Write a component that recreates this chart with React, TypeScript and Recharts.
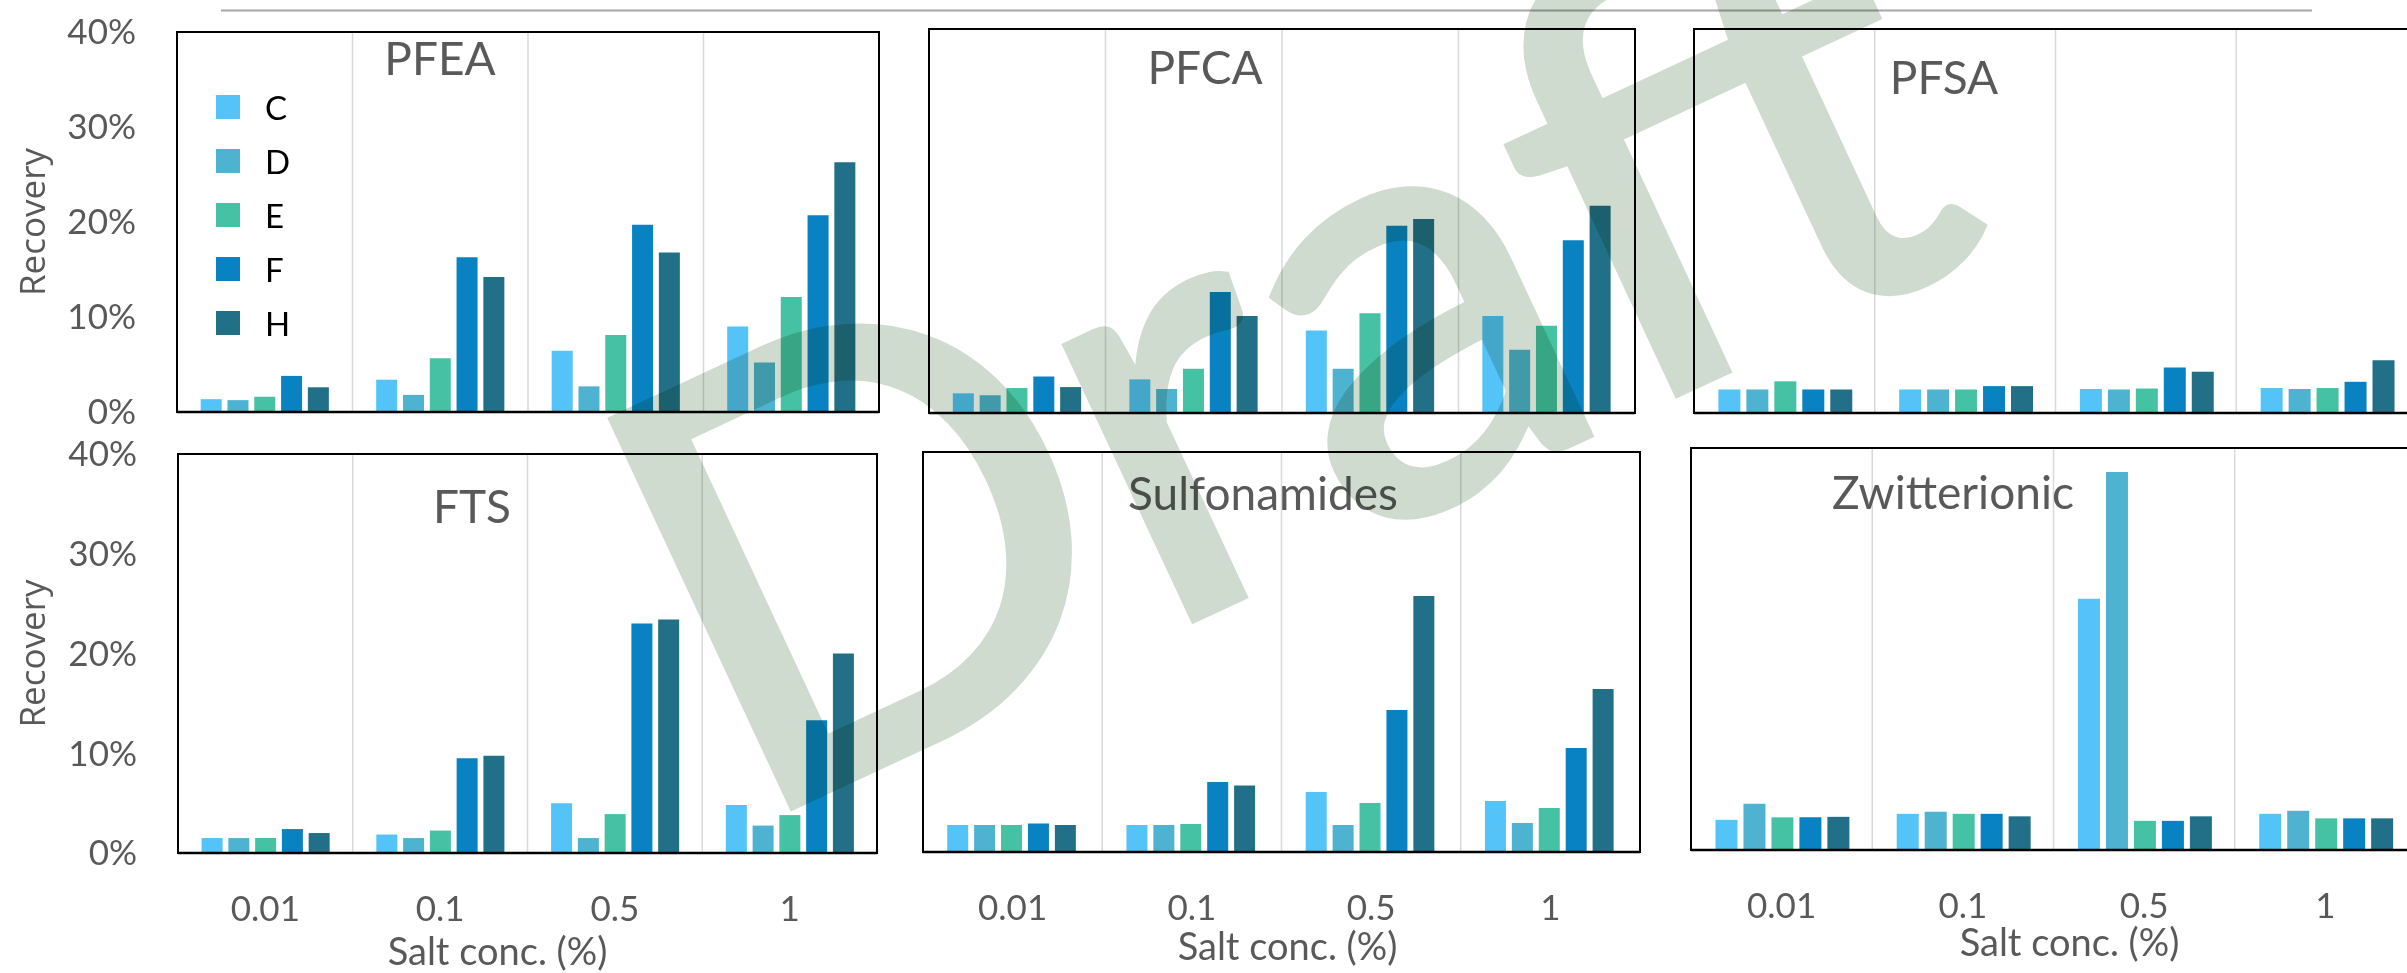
import { BarChart, Bar, XAxis, YAxis, CartesianGrid, Legend } from "recharts";

const categories = ["0.01", "0.1", "0.5", "1"];
const seriesNames = ["C", "D", "E", "F", "H"];
const yTicks = [0, 10, 20, 30, 40];
const panelTitles = ["PFEA", "PFCA", "PFSA", "FTS", "Sulfonamides", "Zwitterionic"];

// recovery in %, one row per series (C, D, E, F, H), one column per salt conc.
const pfea = [
  [1.35, 3.4, 6.45, 9.0],
  [1.25, 1.8, 2.7, 5.2],
  [1.6, 5.65, 8.1, 12.1],
  [3.8, 16.3, 19.7, 20.7],
  [2.6, 14.2, 16.8, 26.3],
];
const pfca = [
  [2.05, 3.5, 8.6, 10.1],
  [1.85, 2.5, 4.6, 6.6],
  [2.6, 4.6, 10.4, 9.1],
  [3.8, 12.6, 19.5, 18.0],
  [2.7, 10.1, 20.2, 21.6],
];
const pfsa = [
  [2.45, 2.45, 2.5, 2.6],
  [2.45, 2.45, 2.45, 2.5],
  [3.3, 2.45, 2.55, 2.6],
  [2.45, 2.8, 4.75, 3.25],
  [2.45, 2.8, 4.3, 5.5],
];
const fts = [
  [1.5, 1.85, 5.0, 4.8],
  [1.5, 1.5, 1.5, 2.75],
  [1.5, 2.25, 3.9, 3.8],
  [2.4, 9.5, 23.0, 13.3],
  [2.0, 9.75, 23.4, 20.0],
];
const sulfonamides = [
  [2.7, 2.7, 6.0, 5.1],
  [2.7, 2.7, 2.7, 2.9],
  [2.7, 2.8, 4.9, 4.4],
  [2.85, 7.0, 14.2, 10.4],
  [2.7, 6.65, 25.6, 16.3],
];
const zwitterionic = [
  [3.0, 3.6, 25.0, 3.6],
  [4.6, 3.8, 37.6, 3.9],
  [3.25, 3.6, 2.9, 3.15],
  [3.25, 3.6, 2.9, 3.15],
  [3.3, 3.35, 3.35, 3.15],
];

const W = 2407;
const H = 973;
const PAD = 30;
const FONT = "Lato, 'Open Sans', sans-serif";
const GREY = "#595959";
const COLORS = ["#53C3F8", "#4EB3D0", "#45C2A3", "#0882C0", "#227088"];

type Box = { x: number; y: number; w: number; h: number };
type PanelCfg = {
  values: number[][];
  box: Box;
  titleAt: [number, number];
  firstCol: boolean;
  bottomRow: boolean;
  legend?: boolean;
  axisTitle?: [number, number]; // dx, offset from bottom
};

const panels: PanelCfg[] = [
  { values: pfea, box: { x: 177, y: 32, w: 702, h: 380 }, titleAt: [440, 75], firstCol: true, bottomRow: false, legend: true },
  { values: pfca, box: { x: 929, y: 29, w: 706, h: 384 }, titleAt: [1205, 84], firstCol: false, bottomRow: false },
  { values: pfsa, box: { x: 1694, y: 29, w: 723, h: 384 }, titleAt: [1944, 94], firstCol: false, bottomRow: false },
  { values: fts, box: { x: 178, y: 454, w: 699, h: 399 }, titleAt: [472, 523], firstCol: true, bottomRow: true, axisTitle: [-30, 8] },
  { values: sulfonamides, box: { x: 923, y: 452, w: 717, h: 400 }, titleAt: [1263, 510], firstCol: false, bottomRow: true, axisTitle: [6, 13] },
  { values: zwitterionic, box: { x: 1691, y: 448, w: 725, h: 402 }, titleAt: [1953, 509], firstCol: false, bottomRow: true, axisTitle: [16, 17] },
];

function makeRows(values: number[][]) {
  return categories.map((cat, i) => {
    const row: Record<string, string | number> = { cat };
    seriesNames.forEach((s, j) => {
      row[s] = values[j][i];
    });
    return row;
  });
}

// grid lines sit between the categories, not on them
const gridAtBoundaries = (args: any) => {
  const o = args.offset;
  const w = o.width ?? args.width - o.left - o.right;
  return categories.slice(1).map((_, i) => o.left + (w * (i + 1)) / categories.length);
};

const renderLegend = (props: any) => {
  const items = [...(props.payload || [])].sort(
    (a: any, b: any) => seriesNames.indexOf(a.value) - seriesNames.indexOf(b.value)
  );
  return (
    <div>
      {items.map((it: any) => (
        <div key={it.value} style={{ display: "flex", alignItems: "center", height: 54 }}>
          <div style={{ width: 24, height: 24, background: it.color }} />
          <span style={{ marginLeft: 25, fontSize: 33, fontFamily: FONT, color: "#000" }}>{it.value}</span>
        </div>
      ))}
    </div>
  );
};

function Panel({ cfg }: { cfg: PanelCfg }) {
  const { box, firstCol, bottomRow } = cfg;
  const xH = bottomRow ? H - (box.y + box.h) : 24;
  const left = firstCol ? 0 : box.x - 4;
  const mLeft = firstCol ? 0 : 4;
  const width = box.x + box.w + 4 - left;
  const top = box.y - PAD;
  return (
    <div style={{ position: "absolute", left, top }}>
      <BarChart
        width={width}
        height={PAD + box.h + xH}
        data={makeRows(cfg.values)}
        margin={{ top: PAD, right: 4, bottom: 0, left: mLeft }}
        barCategoryGap="13.5%"
        barGap="3.3%"
      >
        <CartesianGrid horizontal={false} stroke="#D9D9D9" strokeWidth={1.5} verticalCoordinatesGenerator={gridAtBoundaries} />
        <XAxis
          dataKey="cat"
          height={xH}
          interval={0}
          axisLine={{ stroke: "#000", strokeWidth: 2.5 }}
          tickLine={false}
          tickSize={0}
          tickMargin={43}
          tick={bottomRow ? { fill: GREY, fontSize: 35, fontFamily: FONT } : false}
          label={
            bottomRow && cfg.axisTitle
              ? {
                  value: "Salt conc. (%)",
                  position: "insideBottom",
                  dx: cfg.axisTitle[0],
                  offset: cfg.axisTitle[1],
                  fill: GREY,
                  fontSize: 38,
                  fontFamily: FONT,
                }
              : undefined
          }
        />
        <YAxis
          domain={[0, 40]}
          ticks={yTicks}
          interval={0}
          hide={!firstCol}
          width={firstCol ? box.x : 0}
          axisLine={false}
          tickLine={false}
          tickSize={0}
          tickMargin={41}
          tickFormatter={(v: number) => `${v}%`}
          tick={{ fill: GREY, fontSize: 35, fontFamily: FONT }}
          label={{
            value: "Recovery",
            angle: -90,
            position: "insideLeft",
            offset: 33,
            fill: GREY,
            fontSize: 35,
            fontFamily: "'Open Sans', sans-serif",
            style: { textAnchor: "middle" },
          }}
        />
        {cfg.legend && (
          <Legend
            layout="vertical"
            align="center"
            verticalAlign="middle"
            wrapperStyle={{ left: 216, top: 80 - top, width: 90 }}
            content={renderLegend}
          />
        )}
        {seriesNames.map((s, j) => (
          <Bar key={s} dataKey={s} fill={COLORS[j]} isAnimationActive={false} />
        ))}
      </BarChart>
    </div>
  );
}

export default function App() {
  return (
    <div style={{ position: "absolute", left: 0, top: 0, width: W, height: H, overflow: "hidden", background: "#fff" }}>
      {panels.map((p, i) => (
        <Panel key={i} cfg={p} />
      ))}
      <svg width={W} height={H} style={{ position: "absolute", left: 0, top: 0, pointerEvents: "none" }}>
        <line x1={221} x2={2312} y1={10.5} y2={10.5} stroke="#A6A6A6" strokeWidth={2} />
        {panels.map((p, i) => (
          <rect key={i} x={p.box.x} y={p.box.y} width={p.box.w} height={p.box.h} fill="none" stroke="#000" strokeWidth={2} />
        ))}
        {panels.map((p, i) => (
          <text key={i} x={p.titleAt[0]} y={p.titleAt[1]} textAnchor="middle" fontSize={46} fill={GREY} fontFamily={FONT}>
            {panelTitles[i]}
          </text>
        ))}
      </svg>
      <svg width={W} height={H} style={{ position: "absolute", left: 0, top: 0, pointerEvents: "none", mixBlendMode: "multiply" }}>
        <text
          x={1370}
          y={537}
          transform="rotate(-25 1370 537)"
          textAnchor="middle"
          fontFamily={FONT}
          fontSize={595}
          fill="#CFDBCF"
          stroke="#CFDBCF"
          strokeWidth={8}
          textLength={1385}
          lengthAdjust="spacingAndGlyphs"
        >
          Draft
        </text>
      </svg>
    </div>
  );
}
